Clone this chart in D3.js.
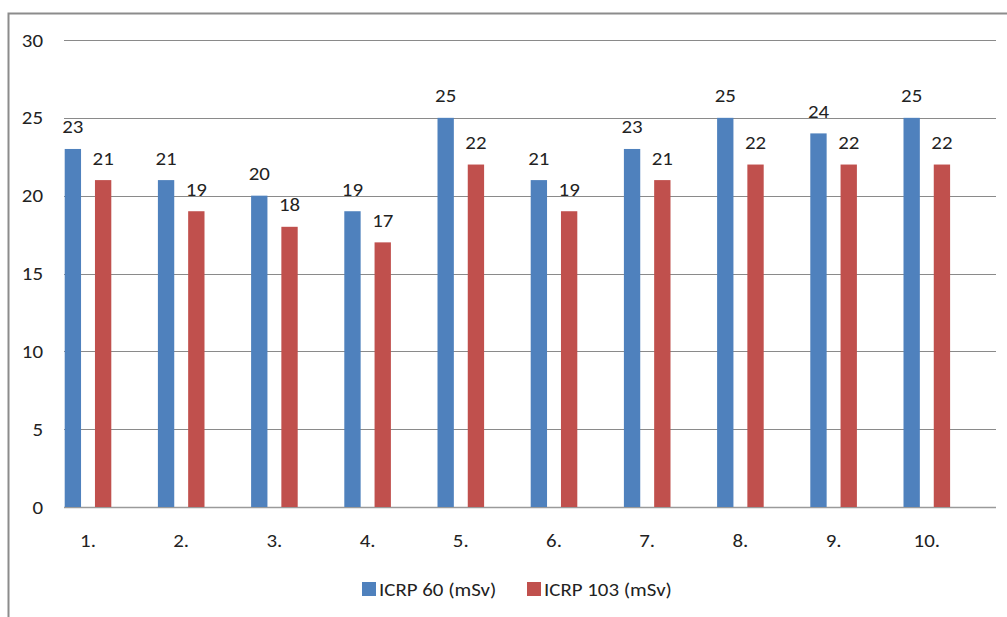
<!DOCTYPE html>
<html>
<head>
<meta charset="utf-8">
<script src="https://cdn.jsdelivr.net/npm/d3@7"></script>
<style>
  html, body { margin: 0; padding: 0; background: #fff; }
  svg { display: block; }
  text { font-family: Calibri, Carlito, Lato, "Open Sans", sans-serif; fill: #222; font-size: 19px; }
</style>
</head>
<body>
<svg id="chart" width="1007" height="617"></svg>
<script>
// Data
const categories = ["1.", "2.", "3.", "4.", "5.", "6.", "7.", "8.", "9.", "10."];
const icrp60 = [23, 21, 20, 19, 25, 21, 23, 25, 24, 25];
const icrp103 = [21, 19, 18, 17, 22, 19, 21, 22, 22, 22];
const seriesNames = ["ICRP 60 (mSv)", "ICRP 103 (mSv)"];
const yTicks = [0, 5, 10, 15, 20, 25, 30];

const colors = ["#4F81BD", "#C0504D"];
const svg = d3.select("#chart");
const stretch = 1.1; // slightly widened lettering

// place a text node at (x, y) with the horizontal stretch applied
function placeText(sel, fx, fy) {
  return sel.attr("transform", (d, i) => `translate(${fx(d, i)},${fy(d, i)}) scale(${stretch},1)`);
}

// Outer frame (chart area border)
svg.append("path")
  .attr("d", "M8.5,620 L8.5,13.5 L1010,13.5")
  .attr("fill", "none")
  .attr("stroke", "#8c8c8c")
  .attr("stroke-width", 2);

const gridX0 = 64, gridX1 = 996;
const y = d3.scaleLinear().domain([0, 30]).range([507, 40]);

// Category positions
const x = d3.scaleBand().domain(categories).range([41.4, 973.4]).padding(0);
const inner = d3.scaleBand().domain([0, 1]).range([-23.3, 23.3]).paddingInner(0.46);

// Gridlines
svg.append("g").selectAll("line")
  .data(yTicks)
  .join("line")
  .attr("x1", gridX0).attr("x2", gridX1)
  .attr("y1", d => Math.round(y(d)) + 0.5)
  .attr("y2", d => Math.round(y(d)) + 0.5)
  .attr("stroke", d => d === 0 ? "#9a9a9a" : "#8a8a8a")
  .attr("stroke-width", d => d === 0 ? 1.5 : 1);

// Y tick labels
placeText(svg.append("g").selectAll("text")
  .data(yTicks)
  .join("text"), () => 43, d => y(d))
  .attr("dy", "0.35em")
  .attr("text-anchor", "end")
  .text(d => d);

// X tick labels
placeText(svg.append("g").selectAll("text")
  .data(categories)
  .join("text"), d => x(d) + x.bandwidth() / 2, () => 540)
  .attr("dy", "0.35em")
  .attr("text-anchor", "middle")
  .text(d => d);

// Bars and value labels
const rows = categories.map((c, i) => [
  { c, s: 0, v: icrp60[i] },
  { c, s: 1, v: icrp103[i] }
]).flat();

const barX = d => x(d.c) + x.bandwidth() / 2 + inner(d.s);

svg.append("g").selectAll("rect")
  .data(rows)
  .join("rect")
  .attr("x", barX)
  .attr("width", inner.bandwidth())
  .attr("y", d => y(d.v))
  .attr("height", d => y(0) - y(d.v))
  .attr("fill", d => colors[d.s]);

placeText(svg.append("g").selectAll("text")
  .data(rows)
  .join("text"), d => barX(d) + inner.bandwidth() / 2, d => y(d.v) - 15.5)
  .attr("text-anchor", "middle")
  .text(d => d.v);

// Legend
const legendItems = [
  { name: seriesNames[0], color: colors[0], x: 362 },
  { name: seriesNames[1], color: colors[1], x: 527 }
];
const legend = svg.append("g").selectAll("g")
  .data(legendItems)
  .join("g");
legend.append("rect")
  .attr("x", d => d.x).attr("y", 582)
  .attr("width", 14).attr("height", 14)
  .attr("fill", d => d.color);
placeText(legend.append("text"), d => d.x + 17, () => 589)
  .attr("dy", "0.35em")
  .text(d => d.name);
</script>
</body>
</html>
